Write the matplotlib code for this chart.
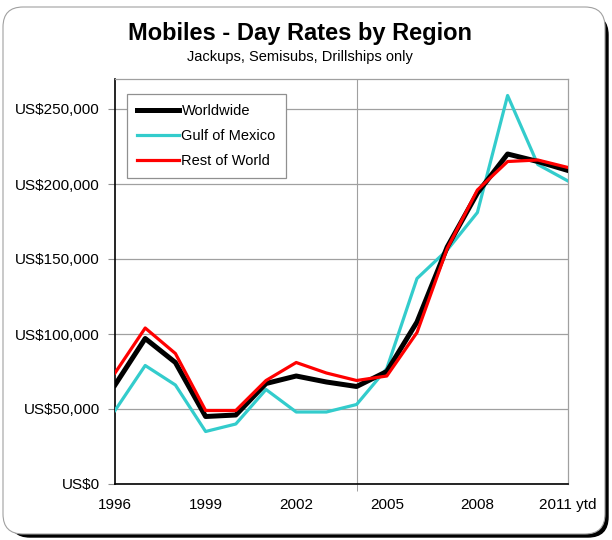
import matplotlib
matplotlib.use('Agg')
import matplotlib.pyplot as plt
from matplotlib.patches import FancyBboxPatch
from matplotlib.ticker import FuncFormatter

plt.rcParams['font.family'] = ['Liberation Sans', 'DejaVu Sans']

years = ['1996', '1997', '1998', '1999', '2000', '2001', '2002', '2003',
         '2004', '2005', '2006', '2007', '2008', '2009', '2010', '2011 ytd']
worldwide = [66000, 97000, 81000, 45000, 46000, 67000, 72000, 68000,
             65000, 75000, 108000, 158000, 194000, 220000, 215000, 209000]
gulf = [49000, 79000, 66000, 35000, 40000, 63000, 48000, 48000,
        53000, 77000, 137000, 156000, 181000, 259000, 213000, 202000]
rest = [74000, 104000, 87000, 49000, 49000, 69000, 81000, 74000,
        69000, 72000, 101000, 157000, 196000, 215000, 216000, 211000]

label_years = [0, 3, 6, 9, 12, 15]

fig = plt.figure(figsize=(6.12, 5.4), dpi=100)

# rounded frame with dark shadow on the right / bottom
shadow = FancyBboxPatch((0.10, 0.03), 5.98, 5.22, boxstyle='round,pad=0,rounding_size=0.2',
                        transform=fig.dpi_scale_trans, facecolor='black', edgecolor='black', zorder=0)
frame = FancyBboxPatch((0.03, 0.06), 6.02, 5.27, boxstyle='round,pad=0,rounding_size=0.2',
                       transform=fig.dpi_scale_trans, facecolor='white', edgecolor='#a0a0a0',
                       linewidth=0.8, zorder=1)
fig.patches.extend([shadow, frame])

ax = fig.add_axes([115 / 612, 56 / 540, 453 / 612, 405 / 540])
ax.set_zorder(2)

x = list(range(len(years)))
ax.plot(x, gulf, color='#33CCCC', lw=2.3, label='Gulf of Mexico', zorder=3)
ax.plot(x, worldwide, color='black', lw=3.6, label='Worldwide', zorder=4)
ax.plot(x, rest, color='#FF0000', lw=2.3, label='Rest of World', zorder=5)

ax.set_xlim(0, 15)
ax.set_ylim(0, 270000)
ax.set_yticks(range(0, 260000, 50000))
ax.yaxis.set_major_formatter(FuncFormatter(lambda v, p: f'US${int(v):,}'))
ax.tick_params(axis='y', length=5, color='#909090', pad=6, labelsize=11)
ax.yaxis.grid(True, color='#a0a0a0', lw=0.9)
ax.axvline(8, color='#a0a0a0', lw=0.8, zorder=1)

ax.set_xticks(label_years)
ax.set_xticklabels([years[i] for i in label_years])
ax.tick_params(axis='x', length=0, pad=10, labelsize=11)
ax.set_xticks([0, 8], minor=True)
ax.tick_params(axis='x', which='minor', length=5, color='#909090')

for side in ['top', 'right']:
    ax.spines[side].set_color('#a0a0a0')
    ax.spines[side].set_linewidth(0.9)
for side in ['left', 'bottom']:
    ax.spines[side].set_color('black')
    ax.spines[side].set_linewidth(1.2)

handles, labels = ax.get_legend_handles_labels()
order = [1, 0, 2]
leg = ax.legend([handles[i] for i in order], [labels[i] for i in order],
                loc='upper left', bbox_to_anchor=(0.026, 0.963), fontsize=10.5,
                handlelength=2.9, handletextpad=0.15, labelspacing=0.75,
                borderpad=0.7, borderaxespad=0, fancybox=False, framealpha=1)
leg.get_frame().set_edgecolor('#909090')
leg.get_frame().set_linewidth(0.9)

fig.text(0.49, 0.938, 'Mobiles - Day Rates by Region', ha='center', va='center',
         fontsize=17, fontweight='bold')
fig.text(0.49, 0.895, 'Jackups, Semisubs, Drillships only', ha='center', va='center',
         fontsize=10.5)

fig.savefig('out.png', dpi=100)
